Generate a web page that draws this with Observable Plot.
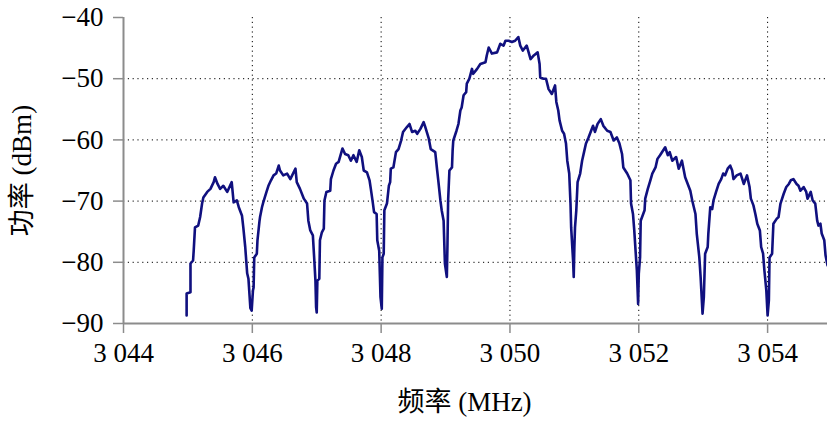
<!DOCTYPE html>
<html><head><meta charset="utf-8">
<script src="https://cdn.jsdelivr.net/npm/d3@7"></script>
<script src="https://cdn.jsdelivr.net/npm/@observablehq/plot@0.6"></script>
<style>
body{margin:0;background:#fff;}
</style>
</head><body><div id="chart"></div>
<script>
const freqMHz = [
 3044.98,3044.98,3045.04,3045.04,3045.08,3045.09,3045.11,3045.16,3045.19,3045.22,3045.24,3045.30,3045.35,3045.40,3045.42,3045.46,3045.50,3045.55,3045.61,3045.68,3045.71,3045.76,3045.79,3045.84,3045.86,3045.89,3045.92,3045.94,3045.97,3045.99,3046.01,
 3046.02,3046.03,3046.07,3046.08,3046.11,3046.12,3046.15,3046.17,3046.22,3046.25,3046.29,3046.33,3046.37,3046.41,3046.43,3046.48,3046.54,3046.59,3046.67,3046.69,3046.74,3046.80,3046.85,3046.87,3046.90,3046.94,3046.96,3046.98,3046.99,3047.00,3047.01,3047.04,
 3047.05,3047.08,3047.11,3047.12,3047.15,3047.21,3047.22,3047.26,3047.30,3047.34,3047.37,3047.40,3047.44,3047.49,3047.53,3047.57,3047.62,3047.66,3047.70,3047.73,3047.78,3047.82,3047.84,3047.87,3047.89,3047.93,3047.94,3047.97,3047.99,3048.01,3048.02,3048.04,3048.05,
 3048.09,3048.12,3048.14,3048.15,3048.19,3048.23,3048.27,3048.31,3048.34,3048.40,3048.44,3048.48,3048.53,3048.56,3048.61,3048.66,3048.68,3048.74,3048.77,3048.84,3048.87,3048.89,3048.92,3048.94,3048.97,3048.99,3049.02,
 3049.03,3049.04,3049.06,3049.10,3049.11,3049.12,3049.17,3049.20,3049.23,3049.25,3049.28,3049.32,3049.33,3049.37,3049.41,3049.43,3049.49,3049.54,3049.62,3049.64,3049.67,3049.72,3049.80,3049.85,3049.90,3049.93,3049.98,3050.03,3050.08,3050.13,3050.16,3050.20,3050.26,3050.32,3050.37,3050.43,3050.46,3050.47,3050.52,3050.56,3050.60,3050.65,3050.70,3050.72,3050.75,3050.77,3050.81,3050.84,3050.87,3050.89,3050.92,3050.94,3050.95,3050.98,3050.99,
 3051.00,3051.01,3051.03,3051.05,3051.09,3051.12,3051.15,3051.18,3051.22,3051.26,3051.29,3051.32,3051.36,3051.41,3051.45,3051.51,3051.56,3051.61,3051.66,3051.70,3051.74,3051.76,3051.82,3051.87,3051.88,3051.91,3051.93,3051.95,3051.97,3051.99,3052.00,3052.02,3052.03,
 3052.09,3052.10,3052.14,3052.18,3052.21,3052.26,3052.29,3052.33,3052.38,3052.41,3052.45,3052.48,3052.52,3052.58,3052.62,3052.67,3052.72,3052.76,3052.80,3052.83,3052.88,3052.90,3052.94,3052.96,3052.99,3053.01,3053.03,3053.07,
 3053.08,3053.11,3053.14,3053.16,3053.20,3053.24,3053.28,3053.31,3053.34,3053.38,3053.42,3053.45,3053.47,3053.52,3053.58,3053.63,3053.68,3053.72,3053.74,3053.78,3053.81,3053.84,3053.88,3053.90,3053.93,3053.95,3053.98,3054.00,3054.02,3054.03,3054.07,
 3054.09,3054.14,3054.17,3054.20,3054.25,3054.29,3054.33,3054.36,3054.40,3054.45,3054.48,3054.51,3054.56,3054.60,3054.62,3054.67,3054.70,3054.74,3054.77,3054.79,3054.82,3054.84,3054.88,3054.90,3054.93
];
const powerDbm = [
 -88.7,-85.1,-84.9,-80.2,-79.7,-78.1,-74.3,-74.0,-72.6,-70.4,-69.4,-68.5,-68.0,-66.9,-66.1,-67.2,-68.0,-67.5,-68.5,-66.9,-70.2,-69.9,-71.0,-72.4,-74.3,-77.5,-81.8,-82.7,-87.5,-87.9,-84.6,
 -84.1,-79.2,-78.6,-76.4,-73.4,-72.6,-71.0,-70.2,-68.5,-67.5,-66.6,-65.8,-65.5,-64.2,-65.0,-65.8,-65.5,-66.4,-64.7,-66.9,-68.0,-69.6,-70.4,-73.2,-74.8,-75.6,-79.2,-83.0,-87.3,-88.2,-83.0,-82.7,
 -76.4,-75.1,-74.5,-69.9,-68.5,-68.3,-66.4,-65.0,-63.9,-63.6,-62.5,-61.4,-62.3,-62.5,-63.4,-62.5,-63.6,-61.7,-62.8,-65.0,-65.3,-66.6,-68.0,-70.2,-71.8,-72.1,-76.4,-78.1,-85.7,-87.6,-79.2,-78.6,-71.5,
 -70.4,-67.5,-66.9,-64.7,-64.5,-62.0,-61.5,-60.1,-58.7,-57.9,-57.4,-58.7,-58.5,-59.0,-58.2,-57.1,-57.7,-59.8,-61.5,-62.0,-65.0,-66.9,-69.9,-71.5,-73.2,-80.2,-82.4,
 -77.0,-69.9,-65.0,-64.5,-61.7,-60.1,-58.5,-57.4,-55.2,-54.7,-52.7,-52.2,-50.8,-50.0,-48.4,-49.2,-48.4,-47.6,-47.3,-46.2,-44.9,-45.9,-45.7,-44.3,-44.6,-43.8,-43.8,-44.0,-43.8,-43.2,-44.6,-45.4,-44.6,-46.8,-46.2,-45.7,-47.6,-49.8,-50.0,-50.0,-51.7,-52.5,-51.1,-53.8,-55.2,-56.8,-58.5,-59.0,-60.6,-63.4,-65.5,-70.4,-74.3,-79.7,-82.4,
 -77.5,-74.3,-71.5,-66.9,-65.5,-63.4,-62.0,-60.6,-59.6,-58.5,-57.7,-58.7,-57.4,-56.6,-57.7,-58.5,-58.7,-60.1,-59.6,-60.6,-62.3,-64.5,-65.5,-66.6,-70.4,-72.1,-74.8,-78.1,-81.3,-86.8,-81.9,-79.2,-73.2,
 -71.5,-69.6,-68.0,-66.6,-65.5,-64.5,-63.1,-62.5,-61.7,-61.2,-62.5,-62.0,-63.4,-62.8,-64.7,-63.4,-66.1,-67.2,-68.3,-69.9,-72.1,-75.3,-79.2,-82.4,-88.4,-85.7,-78.6,-77.5,
 -75.3,-71.0,-71.3,-69.9,-68.5,-67.2,-66.4,-65.5,-65.8,-64.7,-64.2,-65.0,-66.4,-65.8,-65.5,-67.2,-65.8,-67.7,-69.6,-70.7,-72.1,-73.7,-74.8,-77.5,-78.6,-81.3,-84.6,-88.7,-86.2,-79.2,-78.6,
 -73.7,-72.9,-72.6,-70.4,-68.8,-67.7,-67.2,-66.6,-66.4,-67.2,-67.5,-68.3,-67.7,-68.5,-69.6,-68.5,-69.9,-70.4,-73.2,-74.0,-73.7,-75.3,-76.4,-78.9,-80.5
];
const xTicks = [3044, 3046, 3048, 3050, 3052, 3054];
const xTickLabels = ["3 044", "3 046", "3 048", "3 050", "3 052", "3 054"];
const yTicks = [-90, -80, -70, -60, -50, -40];
const yTickLabels = ["\u221290", "\u221280", "\u221270", "\u221260", "\u221250", "\u221240"];
const xGrid = [3046, 3048, 3050, 3052, 3054];
const yGrid = [-80, -70, -60, -50];
const xLabel = "频率 (MHz)";
const yLabel = "功率 (dBm)";

const trace = freqMHz.map((f, i) => ({f, p: powerDbm[i]}));
const axisGray = "#8c8c8c";
const gridStyle = {stroke: "black", strokeWidth: 1, strokeDasharray: "1.2,3.6"};
const serifStack = "Liberation Serif, DejaVu Serif, Noto Serif, serif, Noto Sans CJK SC";

const chart = Plot.plot({
  width: 827, height: 421,
  marginTop: 17, marginBottom: 98, marginLeft: 123, marginRight: 0,
  x: {domain: [3044, 3054.93]},
  y: {domain: [-90, -40]},
  style: {fontFamily: serifStack, fontSize: "27px", background: "white", color: "black"},
  marks: [
    Plot.ruleX(xGrid, gridStyle),
    Plot.ruleY(yGrid, gridStyle),
    Plot.line(trace, {x: "f", y: "p", stroke: "#10107f", strokeWidth: 2.6, clip: true}),
    Plot.ruleX([3044], {stroke: axisGray, strokeWidth: 2}),
    Plot.ruleY([-90], {stroke: axisGray, strokeWidth: 2}),
    Plot.axisX(xTicks, {tickSize: 10, tickPadding: 9, stroke: axisGray, strokeWidth: 1.5, fill: "black",
      tickFormat: d => xTickLabels[xTicks.indexOf(d)], label: null}),
    Plot.axisY(yTicks, {tickSize: 10, tickPadding: 10, stroke: axisGray, strokeWidth: 1.5, fill: "black",
      tickFormat: d => yTickLabels[yTicks.indexOf(d)], label: null}),
    Plot.text([xLabel], {text: d => d, frameAnchor: "bottom", dy: 87, dx: -11, fill: "black", fontSize: 27}),
    Plot.text([yLabel], {text: d => d, frameAnchor: "left", dx: -101, rotate: -90, textAnchor: "middle", fill: "black", fontSize: 27})
  ]
});
chart.setAttribute("font-family", serifStack);
chart.querySelectorAll("g, text").forEach(el => {
  el.setAttribute("font-family", serifStack);
  el.style.fontFamily = serifStack;
});
document.getElementById("chart").appendChild(chart);
</script>
</body></html>
